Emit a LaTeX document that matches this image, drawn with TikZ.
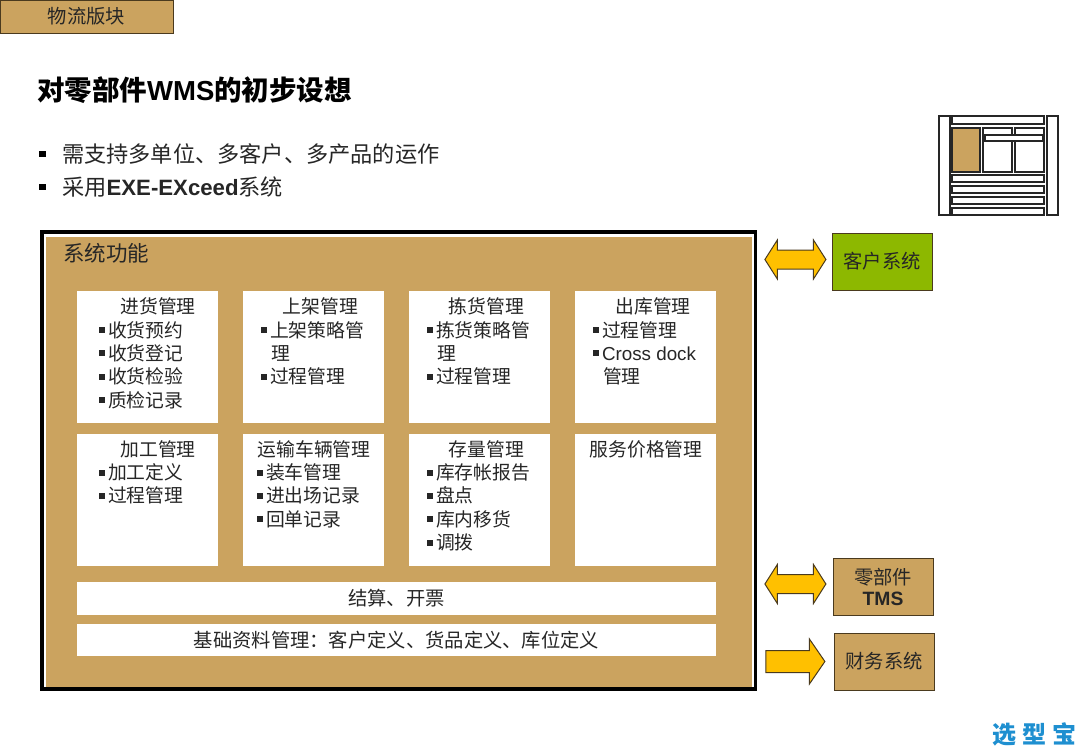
\documentclass[tikz,border=0pt]{standalone}
\usepackage{fontspec}
\setmainfont{Noto Sans CJK SC}
\newfontfamily\latinfont{Liberation Sans}
\usetikzlibrary{positioning, shapes.arrows}

\definecolor{tanfill}{HTML}{CBA35F}
\definecolor{tanedge}{HTML}{4A3A1E}
\definecolor{arrowfill}{HTML}{FFC000}
\definecolor{clientgreen}{HTML}{8DB800}
\definecolor{logoblue}{HTML}{1E8FD0}
\definecolor{inktext}{HTML}{262626}

\newlength{\modindent}
\newcommand{\modtext}[2][15pt]{\parbox[c][124pt][t]{135pt}{\setlength{\modindent}{#1}\setlength{\parindent}{0pt}\fontsize{18.8}{23.3}\selectfont\vspace{3pt}#2}}
\newcommand{\modhead}[2]{\makebox[135pt]{\hspace*{#1}#2}\par}
\newcommand{\modbul}[1]{\hspace*{\modindent}\rule[4pt]{6pt}{6pt}\hspace{3pt}#1\par}
\newcommand{\modcont}[1]{\hspace*{\modindent}\hspace{10pt}#1\par}

\begin{document}
\begin{tikzpicture}[
    x=1pt,
    y=-1pt,
    node distance=142.5pt and 166pt,
    on grid,
    text=inktext,
    modbox/.style={
        draw=none,
        fill=white,
        inner sep=0pt,
        minimum width=141pt,
        minimum height=132pt
    },
    barbox/.style={
        fill=white,
        inner sep=0pt,
        minimum width=639pt,
        minimum height=32.5pt,
        font=\fontsize{19.3}{22}\selectfont
    },
    sidebox/.style={
        draw=tanedge,
        fill=tanfill,
        line width=1pt,
        inner sep=0pt,
        align=center,
        minimum width=100pt,
        minimum height=57pt,
        font=\fontsize{19.3}{23}\selectfont
    },
    twoway/.style={
        double arrow,
        draw=tanedge,
        fill=arrowfill,
        line width=1pt,
        inner xsep=0pt,
        inner ysep=9pt,
        minimum height=61pt,
        double arrow tip angle=115,
        double arrow head extend=10pt,
        double arrow head indent=0pt
    },
    oneway/.style={
        single arrow,
        draw=tanedge,
        fill=arrowfill,
        line width=1pt,
        inner xsep=0pt,
        inner ysep=10.5pt,
        minimum height=59pt,
        single arrow tip angle=111,
        single arrow head extend=11.5pt,
        single arrow head indent=0pt
    },
    iconbar/.style={draw=black!85, fill=white, line width=1.1pt},
    bulletmark/.style={fill=black, inner sep=0pt, minimum size=6.5pt}
]
\useasboundingbox (0,0) rectangle (1080,748);

% header
\node[sidebox, minimum width=173pt, minimum height=33pt] (tag) at (86.5,16.5) {物流版块};
\node[anchor=west, inner sep=0pt, text=black, font=\fontsize{27.5}{32}\selectfont\bfseries] (title) at (37,90)
    {对零部件{\latinfont WMS}的初步设想};

% bullets
\node[bulletmark] (dot1) at (42.5,154) {};
\node[bulletmark] (dot2) at (42.5,187) {};
\node[anchor=west, inner sep=0pt, font=\fontsize{22.2}{26}\selectfont] (line1) at (62,154)
    {需支持多单位、多客户、多产品的运作};
\node[anchor=west, inner sep=0pt, font=\fontsize{22.2}{26}\selectfont] (line2) at (62,187)
    {采用{\latinfont\bfseries EXE-EXceed}系统};

% page icon
\draw[iconbar] (939,116) rectangle (950,215);
\draw[iconbar] (1047,116) rectangle (1058,215);
\draw[iconbar] (952,116) rectangle (1044,124);
\draw[iconbar, fill=tanfill] (952,128) rectangle (980,172);
\draw[iconbar] (983,128) rectangle (1012,172);
\draw[iconbar] (1015,128) rectangle (1044,172);
\draw[iconbar] (985,135) rectangle (1043,141);
\foreach \rowtop in {175,186,197,208}
    \draw[iconbar] (952,\rowtop) rectangle (1044,\rowtop+7);

% system frame
\node[draw=black, fill=white, line width=3.5pt, inner sep=0pt, minimum width=713.5pt, minimum height=457pt] (frame) at (398.5,460.5) {};
\node[fill=tanfill, inner sep=0pt, minimum width=706pt, minimum height=450pt] (panel) at (399,462) {};
\node[anchor=west, inner sep=0pt, font=\fontsize{21.5}{26}\selectfont] (systitle) at (63,253) {系统功能};

% modules
\node[modbox] (inbound) at (147.5,357) {\modtext[19pt]{\modhead{21pt}{进货管理}\modbul{收货预约}\modbul{收货登记}\modbul{收货检验}\modbul{质检记录}}};
\node[modbox, right=of inbound] (putaway) {\modtext{\modhead{14pt}{上架管理}\modbul{上架策略管}\modcont{理}\modbul{过程管理}}};
\node[modbox, right=of putaway] (picking) {\modtext{\modhead{14pt}{拣货管理}\modbul{拣货策略管}\modcont{理}\modbul{过程管理}}};
\node[modbox, right=of picking] (outbound) {\modtext{\modhead{15pt}{出库管理}\modbul{过程管理}\modbul{{\latinfont Cross dock}}\modcont{管理}}};
\node[modbox, below=of inbound] (process) {\modtext[19pt]{\modhead{21pt}{加工管理}\modbul{加工定义}\modbul{过程管理}}};
\node[modbox, below=of putaway] (transport) {\modtext[11pt]{\modhead{1pt}{运输车辆管理}\modbul{装车管理}\modbul{进出场记录}\modbul{回单记录}}};
\node[modbox, below=of picking] (stock) {\modtext{\modhead{14pt}{存量管理}\modbul{库存帐报告}\modbul{盘点}\modbul{库内移货}\modbul{调拨}}};
\node[modbox, below=of outbound] (pricing) {\modtext{\modhead{1pt}{服务价格管理}}};

% bars
\node[barbox] (billing) at (396.5,598.5) {结算、开票};
\node[barbox] (masterdata) at (396.5,640) {基础资料管理：客户定义、货品定义、库位定义};

% outside systems
\node[sidebox, fill=clientgreen] (client) at (882,261.5) {客户系统};
\node[sidebox] (tms) at (883,587) {零部件\\[-2pt]{\latinfont\bfseries TMS}};
\node[sidebox] (finance) at (884,661.5) {财务系统};
\node[twoway, anchor=tip 1] (clientflow) at ([xshift=-5pt, yshift=2pt]client.west) {};
\node[twoway, anchor=tip 1] (tmsflow) at ([xshift=-6pt, yshift=3pt]tms.west) {};
\node[oneway, anchor=tip] (financeflow) at ([xshift=-8pt]finance.west) {};

% logo
\node[anchor=east, inner sep=0pt, text=logoblue, font=\fontsize{24}{28}\selectfont\bfseries] (logo) at (1077,734)
    {选\hspace{6pt}型\hspace{6pt}宝};
\end{tikzpicture}
\end{document}
